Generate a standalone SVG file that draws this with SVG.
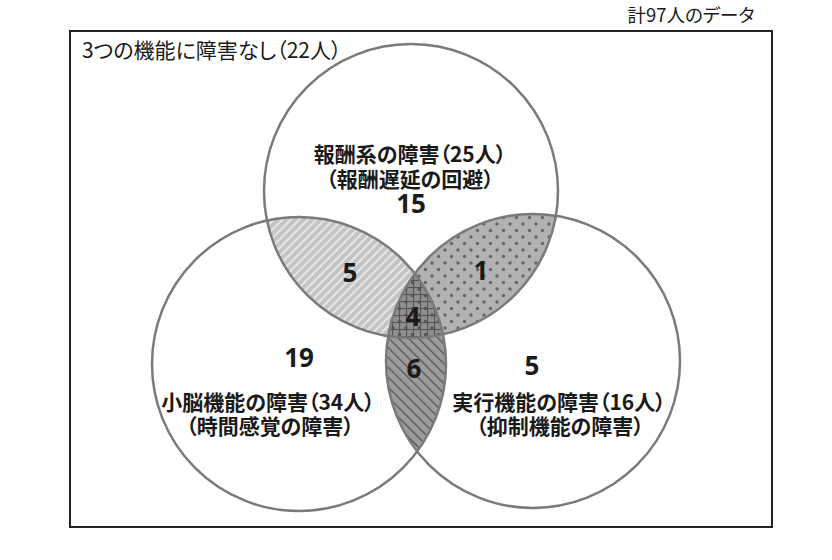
<svg xmlns="http://www.w3.org/2000/svg" width="832" height="560" viewBox="0 0 832 560">
<style>
.t{font-family:"Noto Sans CJK JP","Noto Sans",sans-serif;fill:#1a1a1a;text-anchor:middle;font-feature-settings:"palt";}
.lab{font-size:21px;font-weight:bold;}
.num{font-size:26px;font-weight:bold;font-family:"Noto Sans","Noto Sans CJK JP",sans-serif;}
.ring{fill:none;stroke:#7a7a7a;stroke-width:2.5;}
</style>
<defs>
<clipPath id="cT"><circle cx="411" cy="191" r="147"/></clipPath>
<clipPath id="cL"><circle cx="299" cy="364" r="147"/></clipPath>
<clipPath id="cR"><circle cx="533" cy="361" r="147"/></clipPath>
<pattern id="stripes" patternUnits="userSpaceOnUse" width="6" height="6" patternTransform="rotate(45)">
<rect width="6" height="6" fill="#c4c4c4"/>
<rect x="0" y="0" width="2" height="6" fill="#e6e6e6"/>
</pattern>
<pattern id="dots" patternUnits="userSpaceOnUse" width="13" height="13">
<rect width="13" height="13" fill="#b2b2b2"/>
<circle cx="3" cy="3" r="1.7" fill="#666"/>
<circle cx="9.5" cy="9.5" r="1.7" fill="#666"/>
</pattern>
<pattern id="dotsOnly" patternUnits="userSpaceOnUse" width="13" height="13">
<circle cx="3" cy="3" r="1.7" fill="#555"/>
<circle cx="9.5" cy="9.5" r="1.7" fill="#555"/>
</pattern>
<pattern id="lines" patternUnits="userSpaceOnUse" width="7" height="7" patternTransform="rotate(-45)">
<rect width="7" height="7" fill="#9c9c9c"/>
<rect x="0" y="0" width="1.3" height="7" fill="#555"/>
</pattern>
<pattern id="grid" patternUnits="userSpaceOnUse" width="7" height="7">
<rect x="0" y="0" width="1.1" height="7" fill="#555"/>
<rect x="0" y="0" width="7" height="1.1" fill="#555"/>
</pattern>
</defs>
<rect width="832" height="560" fill="#ffffff"/>
<g id="frame">
<rect x="70" y="31" width="702" height="496" fill="none" stroke="#222" stroke-width="2"/>
<text class="t" x="691" y="22" style="font-size:18.5px">計97人のデータ</text>
<text class="t" x="82" y="58" style="font-size:21px;text-anchor:start">3つの機能に障害なし（22人）</text>
</g>
<g id="regions">
<g clip-path="url(#cT)"><rect x="100" y="30" width="650" height="500" fill="url(#stripes)" clip-path="url(#cL)"/></g>
<g clip-path="url(#cT)"><rect x="100" y="30" width="650" height="500" fill="url(#dots)" clip-path="url(#cR)"/></g>
<g clip-path="url(#cL)"><rect x="100" y="30" width="650" height="500" fill="url(#lines)" clip-path="url(#cR)"/></g>
<g clip-path="url(#cT)"><g clip-path="url(#cL)">
<rect x="100" y="30" width="650" height="500" fill="#8e8e8e" clip-path="url(#cR)"/>
<rect x="100" y="30" width="650" height="500" fill="url(#grid)" clip-path="url(#cR)"/>
<rect x="100" y="30" width="650" height="500" fill="url(#dotsOnly)" clip-path="url(#cR)"/>
</g></g>
</g>
<g id="set-reward">
<circle class="ring" cx="411" cy="191" r="147"/>
<text class="t lab"><tspan x="410" y="162">報酬系の障害（25人）</tspan><tspan x="410" y="187">（報酬遅延の回避）</tspan></text>
<text class="t num" x="411" y="213">15</text>
</g>
<g id="set-cerebellum">
<circle class="ring" cx="299" cy="364" r="147"/>
<text class="t num" x="299" y="367">19</text>
<text class="t lab"><tspan x="268" y="410">小脳機能の障害（34人）</tspan><tspan x="270" y="434">（時間感覚の障害）</tspan></text>
</g>
<g id="set-executive">
<circle class="ring" cx="533" cy="361" r="147"/>
<text class="t num" x="532" y="375">5</text>
<text class="t lab"><tspan x="559" y="410">実行機能の障害（16人）</tspan><tspan x="560" y="434">（抑制機能の障害）</tspan></text>
</g>
<g id="overlap-labels">
<text class="t num" x="350" y="282">5</text>
<text class="t num" x="481" y="280">1</text>
<text class="t num" x="413" y="326">4</text>
<text class="t num" x="414" y="378">6</text>
</g>
</svg>
